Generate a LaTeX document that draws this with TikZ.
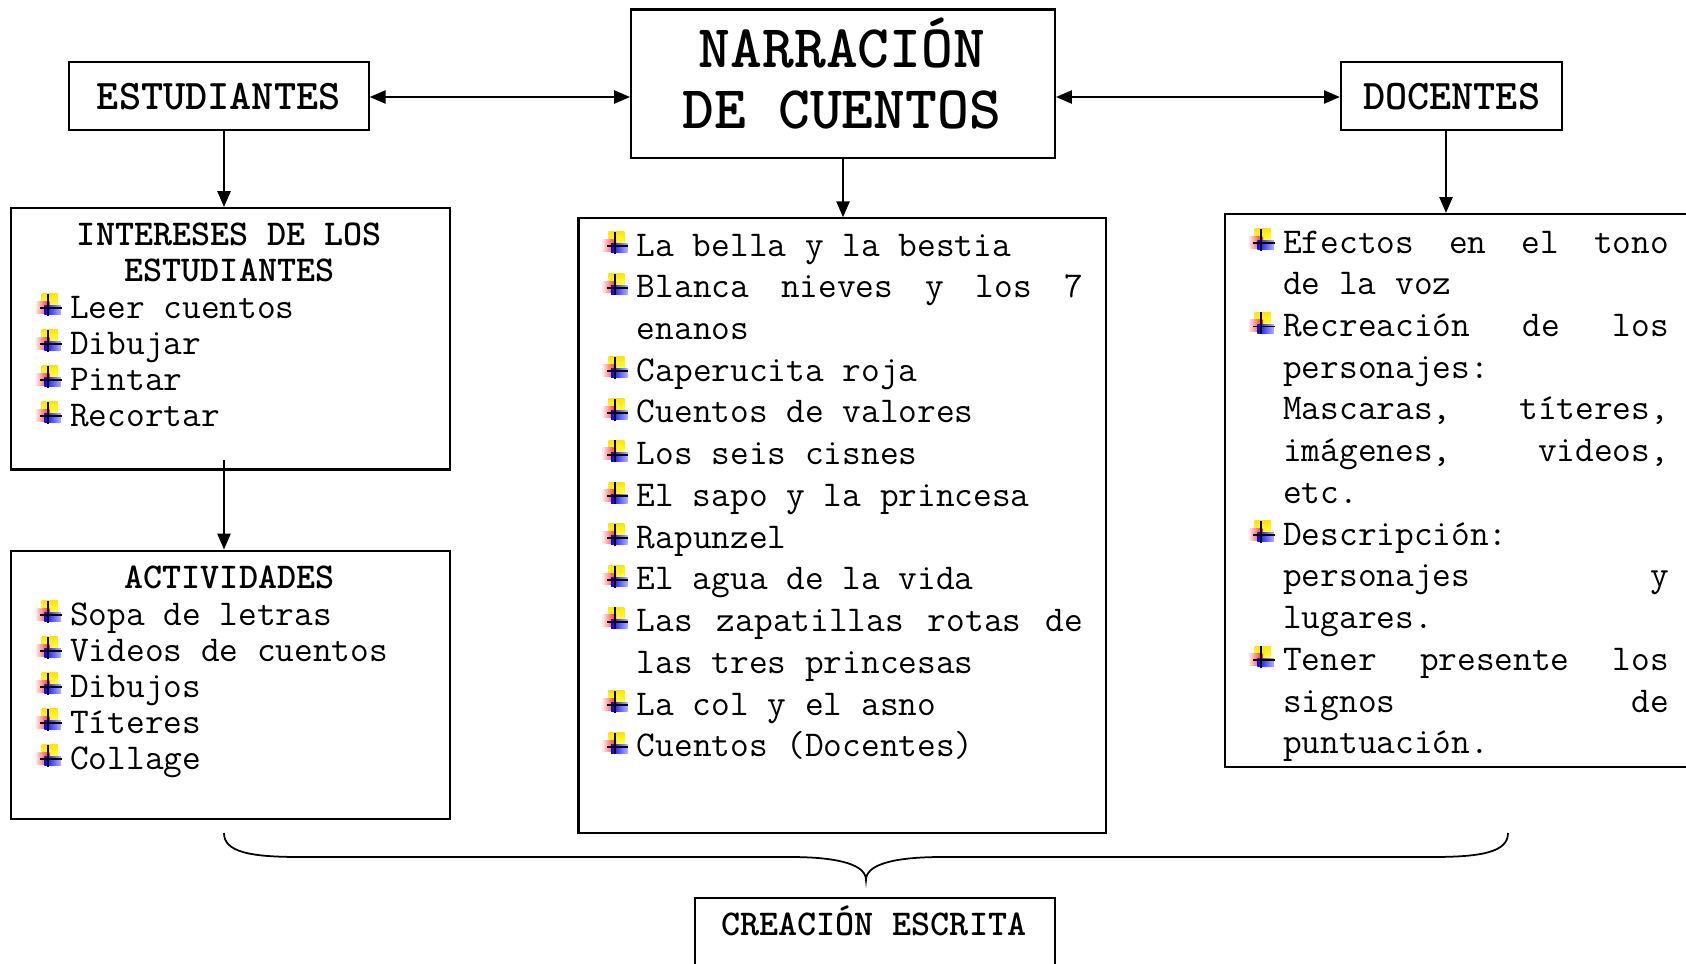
\documentclass[tikz,border=0pt]{standalone}
\usepackage{fontspec}
\renewcommand{\familydefault}{\ttdefault}
\usepackage{tikz}
\usetikzlibrary{positioning}
\usetikzlibrary{calc}
\usetikzlibrary{arrows.meta}

% little coloured cross in front of every item
\newcommand{\bul}{\makebox[20.4pt][l]{\tikz[x=0.5675pt,y=0.5675pt,baseline=0pt]{%
  \shade[bottom color=yellow!60,top color=yellow!80!orange] (7.3,11) rectangle (23.3,24.3);
  \shade[left color=white,right color=red!85] (0,5) rectangle (15,16.7);
  \shade[left color=blue,right color=blue!30] (10,3.3) rectangle (26.7,12.3);
  \draw[line width=1.1pt] (13.7,2.3) -- (13.7,24.3) (6,10) -- (27.3,10);}}}
\newcommand{\nob}{\hspace*{20.4pt}}
\newcommand{\jl}[2]{\makebox[#1][s]{#2}}
% spaces as wide as a letter, as on a typewriter
\newcommand{\fullsp}{\setbox0\hbox{M}\spaceskip=\wd0\relax\xspaceskip=\wd0\relax}

\begin{document}
\begin{tikzpicture}[x=0.02cm,y=-0.02cm,
  box/.style={draw,line width=1.2pt,inner sep=0pt,anchor=north west},
  bigtitle/.style={font=\bfseries\fontsize{34.5}{34.6}\selectfont,execute at begin node=\fullsp,inner sep=0pt,anchor=base,text width=8cm,align=center},
  title/.style={font=\bfseries\fontsize{24}{26}\selectfont},
  head/.style={font=\bfseries\fontsize{20.67}{20.8}\selectfont,execute at begin node=\fullsp,inner sep=0pt,anchor=base,text width=8cm,align=center},
  shortlist/.style={font=\fontsize{20.67}{20.5}\selectfont,execute at begin node=\fullsp,inner sep=0pt,anchor=base west,text width=8.5cm,align=left},
  longlist/.style={font=\fontsize{20.67}{23.75}\selectfont,execute at begin node=\fullsp,inner sep=0pt,anchor=base west,text width=10.5cm,align=left},
  link/.style={line width=1pt,-{Triangle[length=9pt,width=7.5pt]}},
  twoway/.style={line width=1pt,{Triangle[length=9pt,width=7.5pt]}-{Triangle[length=9pt,width=7.5pt]}},
]
\clip (0,0) rectangle (1686,963);

\coordinate (lvl) at (0,97);
\coordinate (lcol) at (224,0);
\coordinate (rcol) at (1446,0);

% top row
\node[box,title,minimum width=6cm,minimum height=1.354cm] (estud) at (67.7,61.3) {ESTUDIANTES};
\node[box,minimum width=8.48cm,minimum height=2.97cm] (narr) at (630,8.5) {};
\node[box,title,minimum width=4.43cm,minimum height=1.354cm] (doc) at (1339.8,61.3) {DOCENTES};
\node[bigtitle] (narrtext) at (842,68) {NARRACIÓN\\DE CUENTOS};

% boxes
\node[box,minimum width=8.78cm,minimum height=5.23cm] (inter) at (10,207) {};
\node[box,minimum width=8.78cm,minimum height=5.376cm] (activ) at (10,549.5) {};
\node[box,minimum width=10.56cm,minimum height=12.3cm] (midbox) at (577.4,217.2) {};
\node[box,minimum width=9.52cm,minimum height=11.054cm] (rbox) at (1223.7,212.9) {};
\node[box,minimum width=7.2cm,minimum height=2.06cm] (crea) at (693.6,896.8) {};

% texts
\node[head] (inthead) at (229.5,245) {INTERESES DE LOS\\ESTUDIANTES};
\node[shortlist] (intlist) at (34,318) {\bul Leer cuentos\\ \bul Dibujar\\ \bul Pintar\\ \bul Recortar};
\node[head] (acthead) at (229.5,588) {ACTIVIDADES};
\node[shortlist] (actlist) at (34,625) {\bul Sopa de letras\\ \bul Videos de cuentos\\ \bul Dibujos\\ \bul Títeres\\ \bul Collage};
\node[longlist] (midlist) at (600.7,256) {\bul La bella y la bestia\\
 \bul \jl{253.8pt}{Blanca\hfill nieves\hfill y\hfill los\hfill 7}\\
 \nob enanos\\
 \bul Caperucita roja\\
 \bul Cuentos de valores\\
 \bul Los seis cisnes\\
 \bul El sapo y la princesa\\
 \bul Rapunzel\\
 \bul El agua de la vida\\
 \bul \jl{253.8pt}{Las\hfill zapatillas\hfill rotas\hfill de}\\
 \nob las tres princesas\\
 \bul La col y el asno\\
 \bul Cuentos (Docentes)};
\node[longlist] (rlist) at (1247,253) {\bul \jl{219.6pt}{Efectos\hfill en\hfill el\hfill tono}\\
 \nob de la voz\\
 \bul \jl{219.6pt}{Recreación\hfill de\hfill los}\\
 \nob personajes:\\
 \nob \jl{219.6pt}{Mascaras,\hfill títeres,}\\
 \nob \jl{219.6pt}{imágenes,\hfill videos,}\\
 \nob etc.\\
 \bul Descripción:\\
 \nob \jl{219.6pt}{personajes\hfill y}\\
 \nob lugares.\\
 \bul \jl{219.6pt}{Tener\hfill presente\hfill los}\\
 \nob \jl{219.6pt}{signos\hfill de}\\
 \nob puntuación.};
\node[head,text width=7cm] (creatext) at (873.7,935) {CREACIÓN ESCRITA};

% connectors
\draw[twoway] (estud.east |- lvl) -- (narr.west |- lvl);
\draw[twoway] (narr.east |- lvl) -- (doc.west |- lvl);
\draw[link] (estud.south -| lcol) -- (inter.north -| lcol);
\draw[link] (narr.south) -- (midbox.north -| narr.south);
\draw[link] (doc.south -| rcol) -- (rbox.north -| rcol);
\draw[link] ([yshift=6pt]inter.south -| lcol) -- (activ.north -| lcol);

% brace
\coordinate (bl) at (224,833);
\coordinate (br) at (1508,833);
\coordinate (tip) at (866,880);
\draw[line width=1pt] (bl) .. controls (224,852) and (250,857) .. (300,857) -- (790,857)
  .. controls (840,857) and (866,865) .. (tip) .. controls (866,865) and (892,857) .. (942,857)
  -- (1432,857) .. controls (1482,857) and (1508,852) .. (br);
\end{tikzpicture}
\end{document}
